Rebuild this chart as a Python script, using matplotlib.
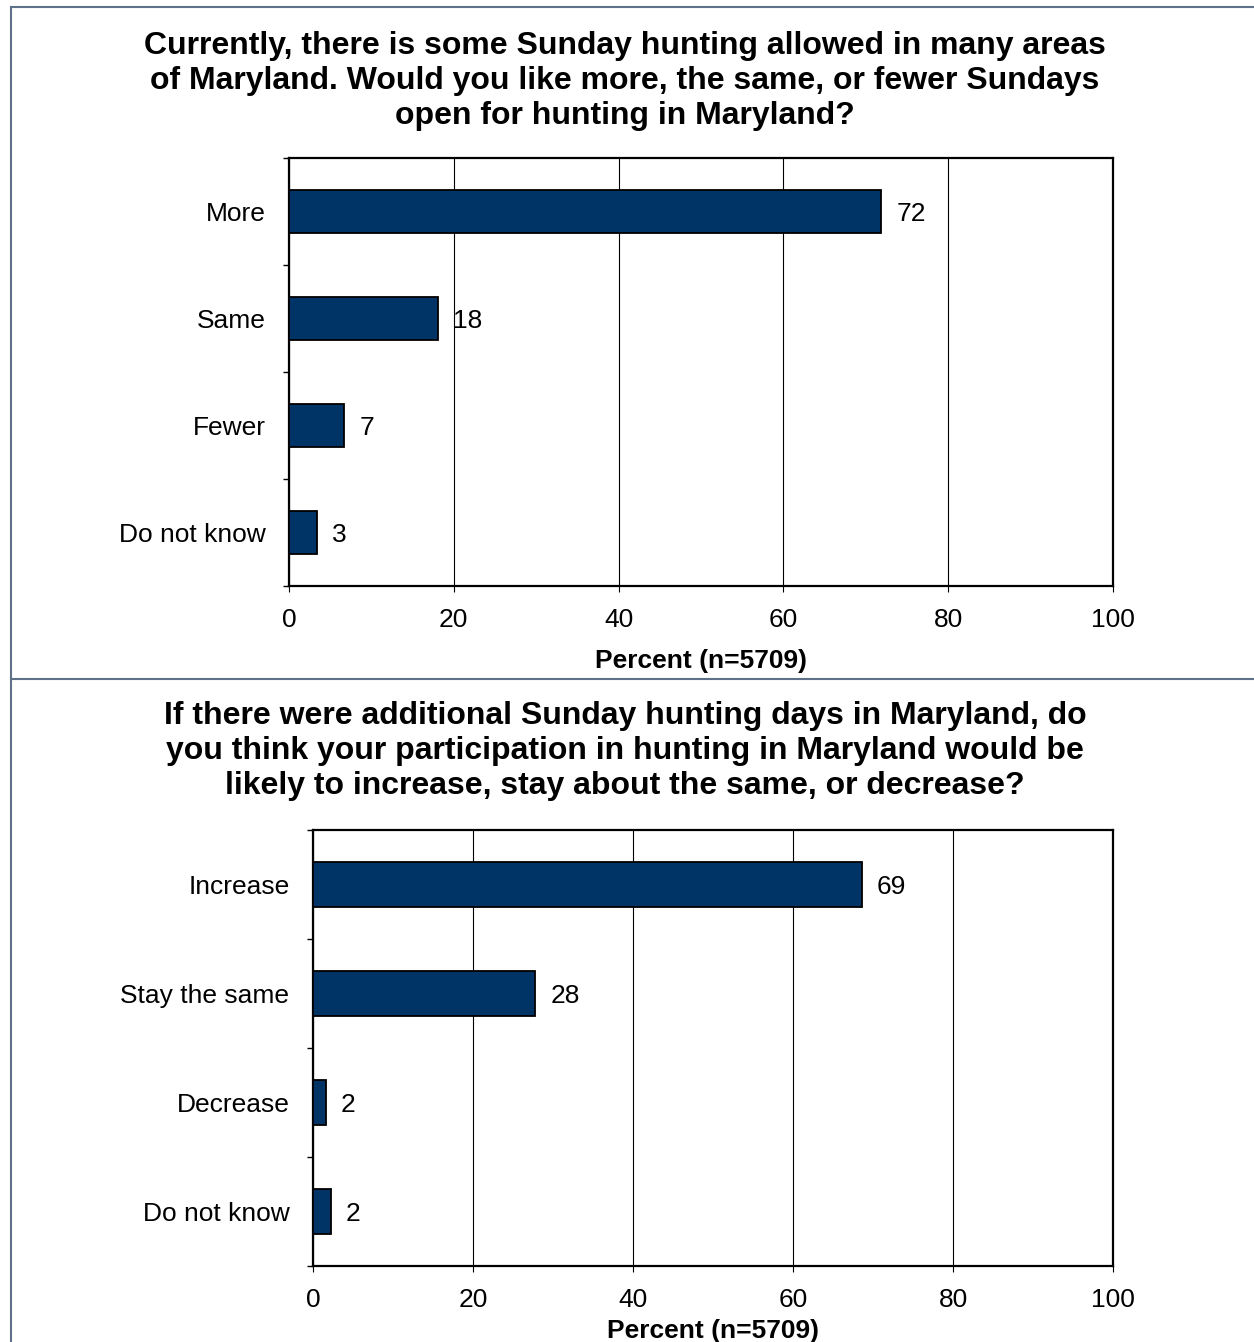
import matplotlib
matplotlib.use('Agg')
import matplotlib.pyplot as plt
from matplotlib.lines import Line2D

plt.rcParams['font.family'] = ['Liberation Sans', 'DejaVu Sans']

# data
title1 = ('Currently, there is some Sunday hunting allowed in many areas\n'
          'of Maryland. Would you like more, the same, or fewer Sundays\n'
          'open for hunting in Maryland?')
cats1 = ['More', 'Same', 'Fewer', 'Do not know']
vals1 = [71.9, 18.1, 6.7, 3.4]
labels1 = ['72', '18', '7', '3']

title2 = ('If there were additional Sunday hunting days in Maryland, do\n'
          'you think your participation in hunting in Maryland would be\n'
          'likely to increase, stay about the same, or decrease?')
cats2 = ['Increase', 'Stay the same', 'Decrease', 'Do not know']
vals2 = [68.6, 27.8, 1.6, 2.2]
labels2 = ['69', '28', '2', '2']

xlabel = 'Percent (n=5709)'
xticks = [0, 20, 40, 60, 80, 100]

W, H = 1254, 1342
fig = plt.figure(figsize=(W / 100, H / 100), dpi=100)
barcolor = '#003366'
bordercolor = '#5f7089'


def fx(px):
    return px / W


def fy(py):
    return 1 - py / H


def draw(ax, cats, vals, labels, lpad):
    n = len(cats)
    pos = list(range(n))
    ax.barh(pos, vals, height=0.41, color=barcolor, edgecolor='black',
            linewidth=1.3, zorder=3)
    for p, v, lab in zip(pos, vals, labels):
        ax.annotate(lab, (v, p), xytext=(11, -2), textcoords='offset points',
                    ha='left', va='center', fontsize=19)
    ax.set_xlim(0, 100)
    ax.set_ylim(n - 0.5, -0.5)
    ax.set_yticks(pos)
    ax.set_yticklabels(cats, fontsize=19)
    ax.set_yticks([i - 0.5 for i in range(n + 1)], minor=True)
    ax.tick_params(axis='y', which='major', length=0, pad=17)
    ax.tick_params(axis='y', which='minor', length=4.5, width=1)
    ax.set_xticks(xticks)
    ax.set_xticklabels([str(t) for t in xticks], fontsize=19)
    ax.tick_params(axis='x', which='major', length=4, width=0.8, pad=12)
    ax.xaxis.grid(True, color='black', linewidth=0.8, zorder=0)
    ax.set_axisbelow(True)
    for s in ax.spines.values():
        s.set_linewidth(1.6)
    ax.set_xlabel(xlabel, fontsize=19, fontweight='bold', labelpad=lpad)


ax1 = fig.add_axes([fx(289), fy(586), fx(1113 - 289), (586 - 158) / H])
draw(ax1, cats1, vals1, labels1, 12)
ax2 = fig.add_axes([fx(313), fy(1266), fx(1113 - 313), (1266 - 830) / H])
draw(ax2, cats2, vals2, labels2, 5)

fig.text(fx(625), fy(81), title1, ha='center', va='center', fontsize=23,
         fontweight='bold', linespacing=1.2)
fig.text(fx(625), fy(751), title2, ha='center', va='center', fontsize=23,
         fontweight='bold', linespacing=1.2)

# outer frame lines
for xs, ys in [([fx(11), fx(11)], [fy(7), 0]),
               ([fx(11), 1], [fy(7), fy(7)]),
               ([fx(11), 1], [fy(679), fy(679)])]:
    fig.add_artist(Line2D(xs, ys, color=bordercolor, linewidth=1.5))

fig.savefig('out.png', dpi=100)
